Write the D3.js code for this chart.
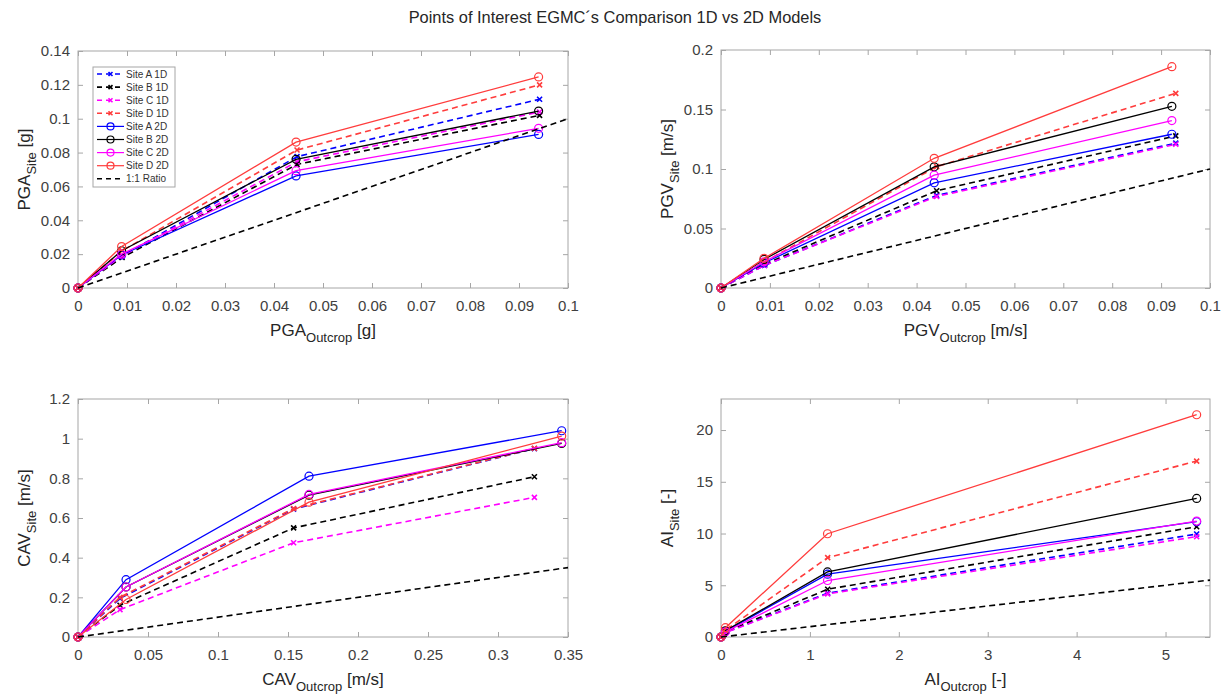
<!DOCTYPE html>
<html><head><meta charset="utf-8">
<script src="https://cdn.jsdelivr.net/npm/d3@7"></script>
<style>
body{margin:0;background:#fff;}
svg{font-family:"Liberation Sans",Arial,sans-serif;}
</style></head><body>
<svg id="c" width="1229" height="695"></svg>
<script>
// ---------- DATA ----------
const seriesNames = ["Site A 1D","Site B 1D","Site C 1D","Site D 1D","Site A 2D","Site B 2D","Site C 2D","Site D 2D"];
const seriesColors = ["#0000ff","#000000","#ff00ff","#ff3c3c","#0000ff","#000000","#ff00ff","#ff3c3c"];

// PGA
const pgaX1D = [0, 0.0090, 0.0447, 0.0942];
const pgaX2D = [0, 0.0089, 0.0445, 0.0940];
const pgaA1D = [0, 0.0190, 0.0776, 0.1115];
const pgaB1D = [0, 0.0180, 0.0730, 0.1020];
const pgaC1D = [0, 0.0190, 0.0746, 0.1040];
const pgaD1D = [0, 0.0220, 0.0815, 0.1200];
const pgaA2D = [0, 0.0195, 0.0662, 0.0907];
const pgaB2D = [0, 0.0220, 0.0760, 0.1045];
const pgaC2D = [0, 0.0200, 0.0693, 0.0943];
const pgaD2D = [0, 0.0245, 0.0862, 0.1247];
const pgaXTicks = [0,0.01,0.02,0.03,0.04,0.05,0.06,0.07,0.08,0.09,0.1];
const pgaYTicks = [0,0.02,0.04,0.06,0.08,0.1,0.12,0.14];

// PGV
const pgvX1D = [0, 0.0089, 0.0441, 0.0930];
const pgvX2D = [0, 0.0088, 0.0436, 0.0922];
const pgvA1D = [0, 0.0190, 0.0778, 0.1217];
const pgvB1D = [0, 0.0200, 0.0817, 0.1278];
const pgvC1D = [0, 0.0190, 0.0769, 0.1208];
const pgvD1D = [0, 0.0220, 0.1020, 0.1636];
const pgvA2D = [0, 0.0210, 0.0884, 0.1292];
const pgvB2D = [0, 0.0240, 0.1018, 0.1527];
const pgvC2D = [0, 0.0220, 0.0948, 0.1407];
const pgvD2D = [0, 0.0249, 0.1090, 0.1860];
const pgvXTicks = [0,0.01,0.02,0.03,0.04,0.05,0.06,0.07,0.08,0.09,0.1];
const pgvYTicks = [0,0.05,0.1,0.15,0.2];

// CAV
const cavX1D = [0, 0.0300, 0.1540, 0.3260];
const cavX2D = [0, 0.0343, 0.1650, 0.3455];
const cavA1D = [0, 0.1950, 0.6450, 0.9500];
const cavB1D = [0, 0.1600, 0.5500, 0.8080];
const cavC1D = [0, 0.1380, 0.4750, 0.7040];
const cavD1D = [0, 0.2000, 0.6480, 0.9510];
const cavA2D = [0, 0.2890, 0.8110, 1.0400];
const cavB2D = [0, 0.2520, 0.7150, 0.9760];
const cavC2D = [0, 0.2520, 0.7190, 0.9800];
const cavD2D = [0, 0.1890, 0.6800, 1.0130];
const cavXTicks = [0,0.05,0.1,0.15,0.2,0.25,0.3,0.35];
const cavYTicks = [0,0.2,0.4,0.6,0.8,1,1.2];

// AI
const aiX1D = [0, 0.05, 1.20, 5.35];
const aiX2D = [0, 0.05, 1.198, 5.35];
const aiA1D = [0, 0.45, 4.24, 9.95];
const aiB1D = [0, 0.50, 4.62, 10.66];
const aiC1D = [0, 0.42, 4.17, 9.70];
const aiD1D = [0, 0.65, 7.67, 17.00];
const aiA2D = [0, 0.55, 6.07, 11.14];
const aiB2D = [0, 0.60, 6.29, 13.39];
const aiC2D = [0, 0.50, 5.46, 11.20];
const aiD2D = [0, 0.90, 9.98, 21.48];
const aiXTicks = [0,1,2,3,4,5];
const aiYTicks = [0,5,10,15,20];

// ---------- DRAW ----------
const svg = d3.select("#c");
const AX = "#a6a6a6", TXT = "#404040";

svg.append("text").attr("x", 615).attr("y", 23).attr("text-anchor","middle")
  .attr("font-size", 16.4).attr("fill","#262626")
  .text("Points of Interest EGMC\u00B4s Comparison 1D vs 2D Models");

function panel(cfg){
  const {left, top, width, height, xMax, yMax, xTicks, yTicks, x1D, x2D, ys, xLab, yLab, unit, legend} = cfg;
  const g = svg.append("g").attr("transform", `translate(${left},${top})`);
  const x = d3.scaleLinear().domain([0, xMax]).range([0, width]);
  const y = d3.scaleLinear().domain([0, yMax]).range([height, 0]);
  const fmt = d => String(+d.toFixed(4));

  const clipId = "clip" + left + "_" + top;
  g.append("clipPath").attr("id", clipId).append("rect")
    .attr("x",-6).attr("y",-6).attr("width", width+12).attr("height", height+12);

  const styleAxis = (sel, showLabels) => {
    sel.select(".domain").remove();
    sel.selectAll(".tick line").attr("stroke", AX);
    sel.selectAll(".tick text").attr("fill", TXT).attr("font-size", 15)
      .attr("font-family","Liberation Sans, Arial, sans-serif");
    if(!showLabels) sel.selectAll(".tick text").remove();
  };
  g.append("g").attr("transform",`translate(0,${height})`)
    .call(d3.axisBottom(x).tickValues(xTicks).tickFormat(fmt).tickSizeInner(-5).tickSizeOuter(0).tickPadding(12))
    .call(s=>styleAxis(s,true));
  g.append("g")
    .call(d3.axisTop(x).tickValues(xTicks).tickSizeInner(-5).tickSizeOuter(0))
    .call(s=>styleAxis(s,false));
  g.append("g")
    .call(d3.axisLeft(y).tickValues(yTicks).tickFormat(fmt).tickSizeInner(-5).tickSizeOuter(0).tickPadding(8))
    .call(s=>styleAxis(s,true));
  g.append("g").attr("transform",`translate(${width},0)`)
    .call(d3.axisRight(y).tickValues(yTicks).tickSizeInner(-5).tickSizeOuter(0))
    .call(s=>styleAxis(s,false));
  g.append("rect").attr("width", width).attr("height", height)
    .attr("fill","none").attr("stroke", AX).attr("stroke-width",1);

  const plot = g.append("g").attr("clip-path", `url(#${clipId})`);
  const line = d3.line().x(d=>x(d[0])).y(d=>y(d[1]));

  ys.forEach((vals, i) => {
    const is1D = i < 4;
    const xs = is1D ? x1D : x2D;
    const pts = xs.map((xv,k)=>[xv, vals[k]]);
    plot.append("path").datum(pts).attr("d", line).attr("fill","none")
      .attr("stroke", seriesColors[i])
      .attr("stroke-width", is1D ? 1.6 : 1.3)
      .attr("stroke-dasharray", is1D ? "6,4" : null);
    pts.forEach(p=>{
      const cx = x(p[0]), cy = y(p[1]);
      if(is1D){
        const s = 2.5;
        plot.append("path").attr("d", `M${cx-s},${cy-s}L${cx+s},${cy+s}M${cx-s},${cy+s}L${cx+s},${cy-s}`)
          .attr("stroke", seriesColors[i]).attr("stroke-width",1.6);
      } else {
        plot.append("circle").attr("cx",cx).attr("cy",cy).attr("r",4)
          .attr("fill","none").attr("stroke", seriesColors[i]).attr("stroke-width",1.2);
      }
    });
  });
  const m = Math.min(xMax, yMax);
  plot.append("path").datum([[0,0],[m,m]]).attr("d", line).attr("fill","none")
    .attr("stroke","#000").attr("stroke-width",1.6).attr("stroke-dasharray","6,4");

  const xl = g.append("text").attr("x", width/2).attr("y", height + 48)
    .attr("text-anchor","middle").attr("font-size",17).attr("fill","#262626");
  xl.append("tspan").text(xLab);
  xl.append("tspan").attr("font-size",13).attr("dy",6).text("Outcrop");
  xl.append("tspan").attr("dy",-6).text(" " + unit);

  const yl = g.append("text").attr("transform",`translate(${-48},${height/2}) rotate(-90)`)
    .attr("text-anchor","middle").attr("font-size",17).attr("fill","#262626");
  yl.append("tspan").text(yLab);
  yl.append("tspan").attr("font-size",13).attr("dy",6).text("Site");
  yl.append("tspan").attr("dy",-6).text(" " + unit);

  if(legend){
    const lg = g.append("g").attr("transform","translate(15,16)");
    const lw = 82, lh = 120;
    lg.append("rect").attr("width",lw).attr("height",lh).attr("fill","#fff").attr("stroke","#a6a6a6");
    const names = seriesNames.concat(["1:1 Ratio"]);
    const cols = seriesColors.concat(["#000"]);
    names.forEach((n,i)=>{
      const yy = 7 + i*13.1;
      const is1D = i < 4 || i === 8;
      lg.append("line").attr("x1",4).attr("x2",31).attr("y1",yy).attr("y2",yy)
        .attr("stroke",cols[i]).attr("stroke-width", is1D?1.6:1.2)
        .attr("stroke-dasharray", is1D ? "5,4" : null);
      if(i<4){
        const s=2, cx=17.5;
        lg.append("path").attr("d",`M${cx-s},${yy-s}L${cx+s},${yy+s}M${cx-s},${yy+s}L${cx+s},${yy-s}`)
          .attr("stroke",cols[i]).attr("stroke-width",1.6);
      } else if(i<8){
        lg.append("circle").attr("cx",17.5).attr("cy",yy).attr("r",3.5).attr("fill","none")
          .attr("stroke",cols[i]).attr("stroke-width",1.2);
      }
      lg.append("text").attr("x",33).attr("y",yy+3.5).attr("font-size",10).attr("fill","#333").text(n);
    });
  }
}

panel({left:78, top:51, width:490, height:237, xMax:0.1, yMax:0.14, xTicks:pgaXTicks, yTicks:pgaYTicks,
  x1D:pgaX1D, x2D:pgaX2D, ys:[pgaA1D,pgaB1D,pgaC1D,pgaD1D,pgaA2D,pgaB2D,pgaC2D,pgaD2D],
  xLab:"PGA", yLab:"PGA", unit:"[g]", legend:true});
panel({left:721, top:50, width:489, height:238, xMax:0.1, yMax:0.2, xTicks:pgvXTicks, yTicks:pgvYTicks,
  x1D:pgvX1D, x2D:pgvX2D, ys:[pgvA1D,pgvB1D,pgvC1D,pgvD1D,pgvA2D,pgvB2D,pgvC2D,pgvD2D],
  xLab:"PGV", yLab:"PGV", unit:"[m/s]", legend:false});
panel({left:78, top:399, width:490, height:238, xMax:0.35, yMax:1.2, xTicks:cavXTicks, yTicks:cavYTicks,
  x1D:cavX1D, x2D:cavX2D, ys:[cavA1D,cavB1D,cavC1D,cavD1D,cavA2D,cavB2D,cavC2D,cavD2D],
  xLab:"CAV", yLab:"CAV", unit:"[m/s]", legend:false});
panel({left:721, top:399, width:489, height:238, xMax:5.5, yMax:23, xTicks:aiXTicks, yTicks:aiYTicks,
  x1D:aiX1D, x2D:aiX2D, ys:[aiA1D,aiB1D,aiC1D,aiD1D,aiA2D,aiB2D,aiC2D,aiD2D],
  xLab:"AI", yLab:"AI", unit:"[-]", legend:false});
</script>
</body></html>
